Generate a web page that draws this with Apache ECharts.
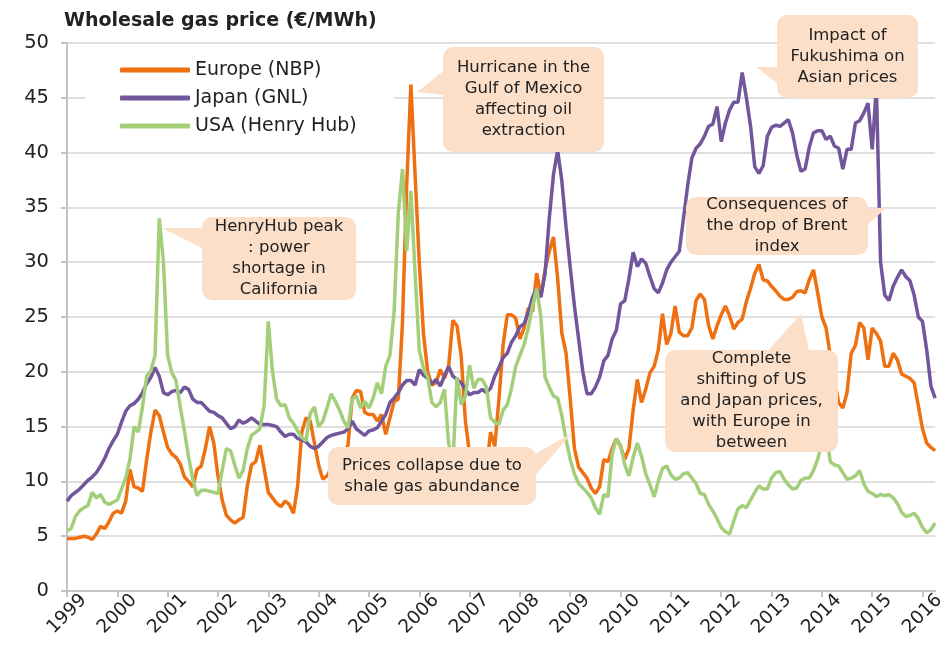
<!DOCTYPE html>
<html>
<head>
<meta charset="utf-8">
<script src="https://cdn.jsdelivr.net/npm/echarts@6/dist/echarts.min.js"></script>
<style>
  html, body { margin: 0; padding: 0; background: #fff; }
  #chart { width: 948px; height: 658px; }
</style>
</head>
<body>
<div id="chart"></div>
<script>
// Tick labels (one per year, monthly data from Jan 1999 to Apr 2016)
const years = ['1999', '2000', '2001', '2002', '2003', '2004', '2005', '2006', '2007',
  '2008', '2009', '2010', '2011', '2012', '2013', '2014', '2015', '2016'];

// Europe (NBP), EUR/MWh, monthly
const europe = [
  4.8, 4.8, 4.8, 4.9, 5.0, 4.9, 4.7, 5.2, 5.9, 5.7, 6.3, 7.1,
  7.3, 7.1, 8.2, 11.1, 9.5, 9.4, 9.1, 12.0, 14.5, 16.5, 16.0, 14.5,
  13.1, 12.5, 12.2, 11.6, 10.4, 10.0, 9.5, 11.1, 11.4, 13.0, 15.0, 13.5,
  10.5, 8.3, 6.9, 6.5, 6.2, 6.5, 6.7, 9.6, 11.5, 11.8, 13.3, 11.2,
  9.0, 8.5, 8.0, 7.7, 8.2, 7.9, 7.1, 9.6, 14.5, 15.8, 15.5, 13.5,
  11.5, 10.2, 10.5, 11.2, 11.0, 11.8, 12.5, 13.3, 17.6, 18.3, 18.2, 16.3,
  16.1, 16.1, 15.5, 16.1, 14.3, 15.8, 17.3, 17.5, 24.5, 37.0, 46.2, 38.0,
  30.0, 23.5, 20.0, 18.8, 19.0, 20.2, 19.4, 20.5, 24.7, 24.2, 21.4, 15.5,
  12.5, 10.5, 9.0, 9.0, 11.0, 14.5, 13.2, 17.5, 22.5, 25.2, 25.2, 24.9,
  23.0, 24.0, 25.8, 25.5, 29.0, 26.9, 29.3, 31.0, 32.3, 28.5, 23.5, 21.7,
  17.5, 13.0, 11.3, 10.8, 10.3, 9.4, 8.9, 9.5, 12.0, 11.8, 13.0, 13.9,
  13.2, 12.0, 13.0, 16.5, 19.3, 17.2, 18.4, 19.9, 20.5, 22.0, 25.3, 22.5,
  23.5, 26.0, 23.6, 23.3, 23.3, 24.0, 26.5, 27.1, 26.6, 24.2, 23.0, 24.2,
  25.2, 26.0, 25.1, 23.9, 24.5, 24.8, 26.4, 27.6, 29.0, 29.8, 28.4, 28.3,
  27.8, 27.4, 26.9, 26.6, 26.6, 26.8, 27.3, 27.4, 27.2, 28.4, 29.3, 27.2,
  25.0, 24.0, 21.5, 19.3, 17.2, 16.7, 18.1, 21.7, 22.4, 24.5, 24.0, 21.1,
  24.0, 23.5, 22.8, 20.5, 20.5, 21.7, 21.1, 19.8, 19.6, 19.4, 19.0, 16.9,
  14.8, 13.5, 13.1, 12.8
];

// Japan (GNL)
const japan = [
  8.2, 8.7, 9.0, 9.3, 9.7, 10.1, 10.4, 10.8, 11.4, 12.1, 13.0, 13.7,
  14.3, 15.4, 16.4, 16.9, 17.1, 17.5, 18.1, 18.9, 19.5, 20.4, 19.6, 18.1,
  17.9, 18.2, 18.3, 18.1, 18.6, 18.4, 17.5, 17.2, 17.2, 16.8, 16.4, 16.3,
  16.0, 15.8, 15.3, 14.8, 15.0, 15.6, 15.3, 15.5, 15.8, 15.5, 15.2, 15.2,
  15.2, 15.1, 15.0, 14.5, 14.1, 14.3, 14.3, 13.9, 13.8, 13.6, 13.2, 13.0,
  13.2, 13.6, 14.0, 14.2, 14.3, 14.4, 14.5, 14.8, 15.5, 14.8, 14.5, 14.2,
  14.6, 14.7, 14.9, 15.5, 16.1, 17.2, 17.6, 18.1, 18.8, 19.2, 19.2, 18.8,
  20.2, 19.7, 19.4, 18.9, 19.3, 18.7, 19.6, 20.5, 19.6, 19.3, 19.0, 18.4,
  17.9, 18.1, 18.1, 18.4, 18.1, 18.5, 19.6, 20.4, 21.3, 21.7, 22.7, 23.3,
  24.1, 24.4, 25.4, 26.8, 27.6, 26.8, 29.0, 34.0, 38.0, 40.2, 37.4, 33.2,
  29.5, 26.0, 23.0, 20.0, 18.0, 18.0, 18.6, 19.5, 21.0, 21.5, 23.0, 23.8,
  26.2, 26.5, 28.5, 30.9, 29.6, 30.3, 29.9, 28.7, 27.6, 27.2, 28.1, 29.3,
  30.0, 30.5, 31.0, 34.0, 37.0, 39.5, 40.4, 40.8, 41.5, 42.4, 42.6, 44.2,
  41.0, 42.7, 43.9, 44.6, 44.6, 47.3, 45.0, 42.4, 38.7, 38.1, 38.8, 41.5,
  42.3, 42.5, 42.4, 42.7, 43.0, 41.8, 39.8, 38.3, 38.5, 40.5, 41.8, 42.0,
  42.0, 41.2, 41.5, 40.6, 40.4, 38.5, 40.3, 40.3, 42.7, 42.9, 43.6, 44.5,
  40.3, 46.0, 30.0, 27.0, 26.5, 27.8, 28.6, 29.3, 28.7, 28.3, 27.0, 25.0,
  24.6, 22.0, 18.7, 17.6
];

// USA (Henry Hub)
const usa = [
  5.5, 5.7, 6.8, 7.3, 7.6, 7.8, 9.0, 8.5, 8.8, 8.1, 7.9, 8.1,
  8.3, 9.3, 10.3, 12.0, 15.0, 14.5, 16.8, 19.6, 20.1, 21.5, 34.0, 30.0,
  21.5, 19.9, 19.2, 16.8, 14.6, 12.2, 10.2, 8.7, 9.2, 9.2, 9.1, 9.0,
  8.9, 11.0, 13.0, 12.8, 11.5, 10.3, 11.0, 13.0, 14.2, 14.5, 14.8, 16.9,
  24.6, 20.0, 17.5, 16.9, 17.0, 15.8, 15.3, 14.6, 14.0, 13.7, 16.2, 16.8,
  15.0, 15.5, 16.7, 18.0, 17.3, 16.5, 15.5, 14.9, 17.5, 17.8, 16.7, 17.3,
  16.7, 17.6, 19.0, 18.0, 20.5, 21.5, 25.5, 34.5, 38.5, 31.0, 36.5, 29.0,
  22.0, 20.3, 19.5, 17.2, 16.8, 17.2, 18.4, 13.5, 11.5, 19.5, 17.0, 17.8,
  20.6, 18.5, 19.3, 19.3, 18.6, 15.8, 15.4, 15.2, 16.5, 17.0, 18.5, 20.5,
  21.5, 22.5, 24.0, 26.0, 27.6, 25.0, 19.5, 18.6, 17.8, 17.6, 16.0, 13.8,
  12.0, 10.7, 9.8, 9.4, 9.0, 8.5, 7.6, 7.0, 8.8, 8.6, 12.5, 13.9,
  13.3, 11.5, 10.5, 12.2, 13.5, 12.3, 10.7, 9.7, 8.6, 10.0, 11.2, 11.4,
  10.6, 10.2, 10.3, 10.7, 10.8, 10.3, 9.8, 8.9, 8.8, 7.9, 7.3, 6.6,
  5.8, 5.4, 5.2, 6.4, 7.5, 7.8, 7.6, 8.3, 9.0, 9.6, 9.3, 9.3,
  10.3, 10.8, 10.9, 10.2, 9.7, 9.3, 9.4, 10.1, 10.3, 10.3, 11.0, 12.0,
  13.6, 14.6, 11.8, 11.5, 11.4, 10.8, 10.2, 10.3, 10.5, 11.0, 9.8, 9.1,
  8.9, 8.6, 8.8, 8.7, 8.8, 8.5, 8.0, 7.2, 6.8, 6.9, 7.1, 6.6,
  5.8, 5.3, 5.6, 6.2
];

// one category per month, labelled by year
const months = years
  .flatMap((y) => ['01', '02', '03', '04', '05', '06', '07', '08', '09', '10', '11', '12'].map((m) => y + '-' + m))
  .slice(0, europe.length);

const FONT = 'DejaVu Sans';
const BOX = '#fcdfc8';

// callout box: rounded rect + pointer wedge + centred text
function callout(x, y, w, h, wedge, text) {
  return [
    { type: 'polygon', z: 100, shape: { points: wedge }, style: { fill: BOX } },
    { type: 'rect', z: 101, shape: { x, y, width: w, height: h, r: 10 }, style: { fill: BOX } },
    {
      type: 'text', z: 102, x: x + w / 2, y: y + h / 2,
      style: {
        text, fill: '#222', font: '16.5px "' + FONT + '"', lineHeight: 21,
        align: 'center', verticalAlign: 'middle'
      }
    }
  ];
}

const chart = echarts.init(document.getElementById('chart'));

chart.setOption({
  animation: false,
  backgroundColor: '#fff',
  textStyle: { fontFamily: FONT },
  title: {
    text: 'Wholesale gas price (€/MWh)',
    left: 59, top: 7,
    textStyle: { fontFamily: FONT, fontSize: 19, fontWeight: 'bold', color: '#222' }
  },
  legend: {
    orient: 'vertical',
    left: 85, top: 51,
    padding: [9, 37, 8, 35],
    backgroundColor: '#fff',
    itemWidth: 70, itemHeight: 5, itemGap: 8,
    icon: 'roundRect',
    textStyle: { fontFamily: FONT, fontSize: 19, color: '#222', lineHeight: 20 },
    data: ['Europe (NBP)', 'Japan (GNL)', 'USA (Henry Hub)']
  },
  grid: { left: 67, right: 0, top: 43, bottom: 67 },
  xAxis: {
    type: 'category',
    data: months,
    boundaryGap: false,
    axisLine: { lineStyle: { color: '#c4c4c4', width: 2 } },
    axisTick: {
      interval: (i) => i % 12 === 0,
      length: 6,
      lineStyle: { color: '#c4c4c4', width: 2 }
    },
    axisLabel: {
      interval: (i) => i % 12 === 0,
      formatter: (v) => v.slice(0, 4),
      rotate: 45,
      align: 'center',
      verticalAlign: 'middle',
      margin: 23,
      fontFamily: FONT, fontSize: 18.5, color: '#222'
    },
    splitLine: { show: false }
  },
  yAxis: {
    type: 'value',
    min: 0, max: 50, interval: 5,
    axisLine: { show: true, lineStyle: { color: '#c4c4c4', width: 2 } },
    axisTick: { show: true, length: 6, lineStyle: { color: '#c4c4c4', width: 2 } },
    axisLabel: { margin: 18, fontFamily: FONT, fontSize: 19.5, color: '#222' },
    splitLine: { lineStyle: { color: '#d4d4d4', width: 1.5 } }
  },
  series: [
    {
      name: 'Europe (NBP)', type: 'line', data: europe,
      showSymbol: false, symbol: 'none',
      lineStyle: { color: '#ee7010', width: 3.5 }, itemStyle: { color: '#ee7010' }
    },
    {
      name: 'Japan (GNL)', type: 'line', data: japan,
      showSymbol: false, symbol: 'none',
      lineStyle: { color: '#72569b', width: 3.5 }, itemStyle: { color: '#72569b' }
    },
    {
      name: 'USA (Henry Hub)', type: 'line', data: usa,
      showSymbol: false, symbol: 'none',
      lineStyle: { color: '#a3cf7a', width: 3.5 }, itemStyle: { color: '#a3cf7a' }
    }
  ],
  graphic: [
    ...callout(202, 217, 154, 83, [[162, 228], [210, 228], [210, 252]],
      'HenryHub peak\n: power\nshortage in\nCalifornia'),
    ...callout(443, 47, 161, 105, [[417, 92], [450, 66], [450, 96]],
      'Hurricane in the\nGulf of Mexico\naffecting oil\nextraction'),
    ...callout(328, 447, 208, 58, [[572, 433], [528, 458], [528, 484]],
      'Prices collapse due to\nshale gas abundance'),
    ...callout(777, 15, 141, 83, [[756, 67], [786, 67], [786, 90]],
      'Impact of\nFukushima on\nAsian prices'),
    ...callout(686, 197, 182, 58, [[887, 207], [860, 210], [860, 232]],
      'Consequences of\nthe drop of Brent\nindex'),
    ...callout(665, 350, 173, 102, [[801, 314], [764, 355], [810, 355]],
      'Complete\nshifting of US\nand Japan prices,\nwith Europe in\nbetween')
  ]
});
</script>
</body>
</html>
